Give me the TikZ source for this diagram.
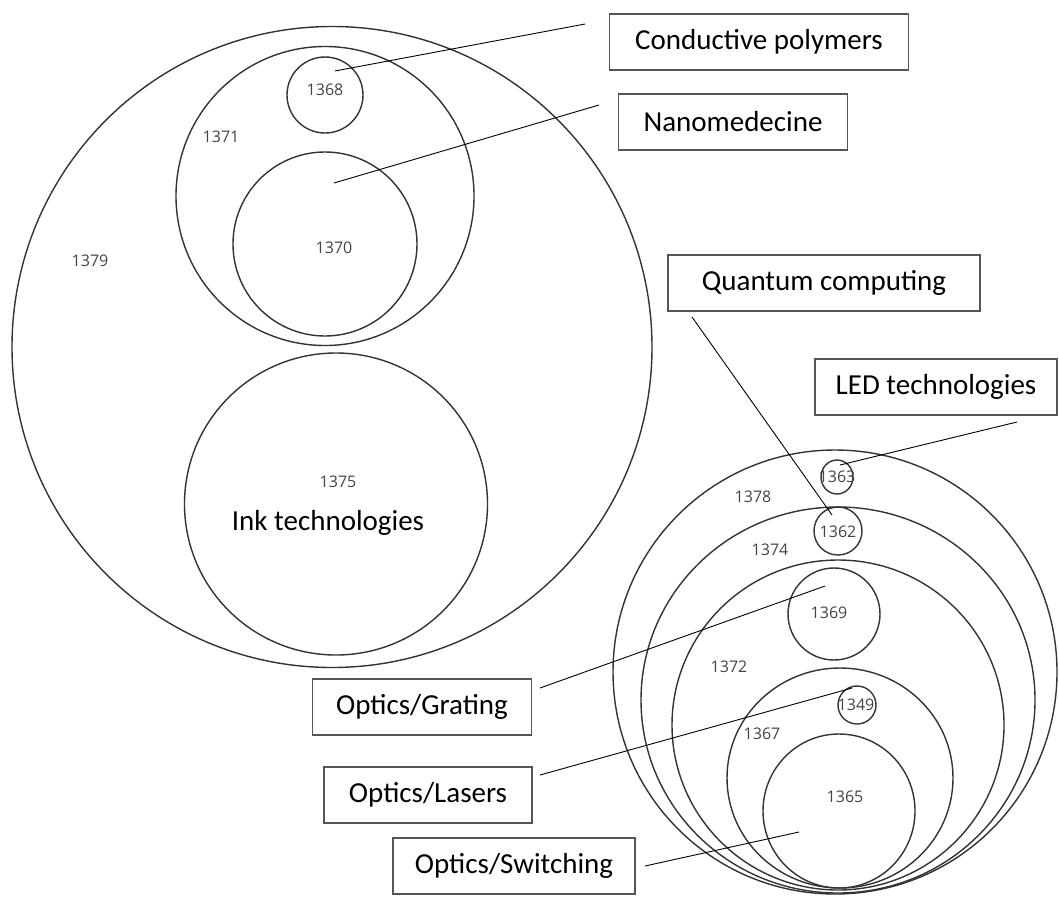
\documentclass[tikz,border=0pt]{standalone}
\usepackage{fontspec}
\setmainfont{Carlito}
\newfontfamily\numf{Open Sans}
\usetikzlibrary{shapes.geometric}
\definecolor{circcol}{HTML}{333333}
\definecolor{numcol}{HTML}{444444}
\definecolor{boxcol}{HTML}{555555}
\tikzset{
  circ/.style={draw=circcol, ellipse, inner sep=0pt, line width=1.4pt},
  num/.style={font=\numf\fontsize{16}{18}\selectfont, text=numcol, inner sep=0pt},
  lbl/.style={draw=boxcol, line width=1.1pt, font=\fontsize{29}{34}\selectfont, minimum height=56pt, inner sep=0pt},
  conn/.style={draw=black, line width=0.9pt},
}
\begin{document}
\begin{tikzpicture}[x=1pt,y=-1pt]
\useasboundingbox (0,0) rectangle (1059,905);
% left cluster
\node[circ, minimum width=640pt, minimum height=641pt] (c1379) at (332,347) {};
\node[circ, minimum width=298pt, minimum height=299pt] (c1371) at (325,196) {};
\node[circ, minimum width=76pt, minimum height=76pt] (c1368) at (325,95) {};
\node[circ, minimum width=184pt, minimum height=184pt] (c1370) at (325,244) {};
\node[circ, minimum width=303pt, minimum height=302pt] (c1375) at (336,504) {};
% right cluster
\node[circ, minimum width=444pt, minimum height=444pt] (c1378) at (835,672) {};
\node[circ, minimum width=394pt, minimum height=386pt] (c1374) at (838,700) {};
\node[circ, minimum width=332pt, minimum height=330pt] (c1372) at (838,725) {};
\node[circ, minimum width=226pt, minimum height=220pt] (c1367) at (840,778) {};
\node[circ, minimum width=152pt, minimum height=154pt] (c1365) at (839,811) {};
\node[circ, minimum width=92pt, minimum height=92pt] (c1369) at (834,614) {};
\node[circ, minimum width=38pt, minimum height=38pt] (c1349) at (857,705) {};
\node[circ, minimum width=48pt, minimum height=48pt] (c1362) at (838,531) {};
\node[circ, minimum width=32pt, minimum height=34pt] (c1363) at (837,477) {};
% numbers
\node[num] (n1379) at (90,261) {1379};
\node[num] (n1371) at (221,137) {1371};
\node[num] (n1368) at (325,90) {1368};
\node[num] (n1370) at (334,248) {1370};
\node[num] (n1375) at (338,482) {1375};
\node[font=\fontsize{29}{34}\selectfont, inner sep=0pt] (ink) at (328,523) {Ink technologies};
\node[num] (n1378) at (753,497) {1378};
\node[num] (n1374) at (770,550) {1374};
\node[num] (n1372) at (729,667) {1372};
\node[num] (n1369) at (829,613) {1369};
\node[num] (n1349) at (856,705) {1349};
\node[num] (n1367) at (762,734) {1367};
\node[num] (n1365) at (845,797) {1365};
\node[num] (n1362) at (838,532) {1362};
\node[num] (n1363) at (837,477) {1363};
% label boxes
\node[lbl, minimum width=299pt] (bcond) at (759,42) {Conductive polymers};
\node[lbl, minimum width=229pt] (bnano) at (733,122) {Nanomedecine};
\node[lbl, minimum width=312pt] (bquant) at (824,283) {Quantum computing};
\node[lbl, minimum width=242pt] (bled) at (936,387) {LED technologies};
\node[lbl, minimum width=219pt] (bgrat) at (422,707) {Optics/Grating};
\node[lbl, minimum width=208pt] (blas) at (428,795) {Optics/Lasers};
\node[lbl, minimum width=242pt] (bswit) at (514,866) {Optics/Switching};
% connector ends
\coordinate (e1a) at (585,24);   \coordinate (e1b) at (335,71);
\coordinate (e2a) at (599,105);  \coordinate (e2b) at (334,183);
\coordinate (e3a) at (692,317);  \coordinate (e3b) at (832,515);
\coordinate (e4a) at (1017,422); \coordinate (e4b) at (840,465);
\coordinate (e5a) at (540,688);  \coordinate (e5b) at (825,586);
\coordinate (e6a) at (540,775);  \coordinate (e6b) at (852,688);
\coordinate (e7a) at (645,866);  \coordinate (e7b) at (799,832);
\draw[conn] (e1a) -- (e1b);
\draw[conn] (e2a) -- (e2b);
\draw[conn] (e3a) -- (e3b);
\draw[conn] (e4a) -- (e4b);
\draw[conn] (e5a) -- (e5b);
\draw[conn] (e6a) -- (e6b);
\draw[conn] (e7a) -- (e7b);
\end{tikzpicture}
\end{document}
